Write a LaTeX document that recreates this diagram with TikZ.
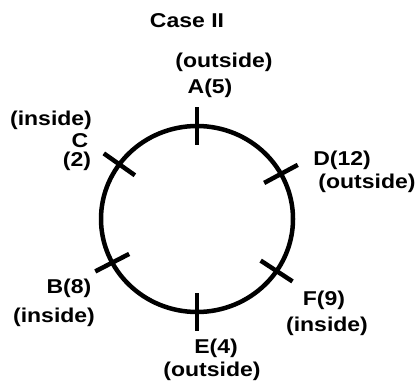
\documentclass[tikz,border=0pt]{standalone}
\usepackage{fontspec}
\setmainfont{Liberation Sans}[FakeStretch=1.15]

\begin{document}
\begin{tikzpicture}[x=1pt,y=-1pt,
            every node/.style={inner sep=0pt,font=\fontsize{20}{22}\selectfont\bfseries},
            tick/.style={line width=4.5pt}]
                \useasboundingbox (0,0) rectangle (419,385);
                \node(title) at (187,21) {Case II};
                \node(sideA) at (224,62) {(outside)};
                \node(nA) at (210,88) {A(5)};
                \node(sideC) at (51,120) {(inside)};
                \node(nC) at (80,141) {C};
                \node(numC) at (77,161) {(2)};
                \node(nD) at (342,160) {D(12)};
                \node(sideD) at (367,183) {(outside)};
                \node(nB) at (69,288) {B(8)};
                \node(sideB) at (54,317) {(inside)};
                \node(nF) at (324,300) {F(9)};
                \node(sideF) at (327,326) {(inside)};
                \node(nE) at (216,348) {E(4)};
                \node(sideE) at (212,371) {(outside)};

            \begin{scope}[shift={(197,219)}, x=96pt, y=93pt]
                \draw[line width=4.5pt] (0,0) circle (1);
                \foreach \a/\n in {90/A,144/C,29/D,208/B,-34/F,270/E}
                    \draw[tick] (\a:0.8) coordinate(in\n) -- (\a:1.2) coordinate(out\n);
            \end{scope}
        \end{tikzpicture}
\end{document}
